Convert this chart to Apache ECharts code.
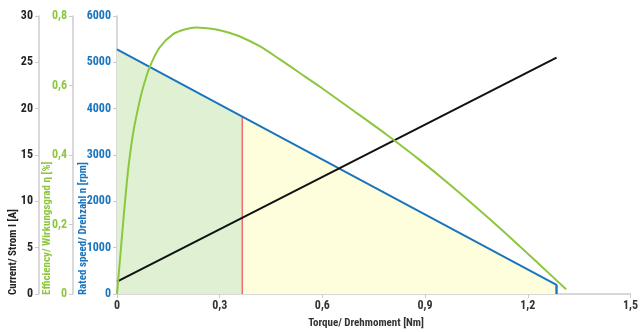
<!DOCTYPE html>
<html>
<head>
<meta charset="utf-8">
<script src="https://cdn.jsdelivr.net/npm/echarts@6/dist/echarts.min.js"></script>
<style>html,body{margin:0;padding:0;background:#fff;}#c{width:641px;height:332px;}</style>
</head>
<body>
<div id="c"></div>
<script>
// Torque values [Nm] and efficiency values
const effTorque = [0, 0.003, 0.0097, 0.0166, 0.0243, 0.034, 0.0487, 0.065, 0.077, 0.096, 0.125, 0.164, 0.2, 0.23, 0.262, 0.29, 0.32, 0.359, 0.417, 0.476, 0.534, 0.592, 0.69, 0.787, 0.884, 0.972, 1.118, 1.234, 1.312];
const efficiency = [0, 0.035, 0.11, 0.19, 0.275, 0.37, 0.472, 0.55, 0.597, 0.654, 0.710, 0.748, 0.762, 0.767, 0.765, 0.761, 0.754, 0.741, 0.713, 0.675, 0.636, 0.597, 0.528, 0.459, 0.386, 0.315, 0.19, 0.085, 0.0135];
// Speed line
const speedTorque = [0, 0.366, 1.284, 1.284];
const speed = [5280, 3830, 195, 0];
// Current line
const currentTorque = [0, 1.284];
const current = [1.33, 25.5];
// Axis ticks
const xTicks = [0, 0.3, 0.6, 0.9, 1.2, 1.5];
const speedTicks = [0, 1000, 2000, 3000, 4000, 5000, 6000];
const effTicks = [0, 0.2, 0.4, 0.6, 0.8];
const currentTicks = [0, 5, 10, 15, 20, 25, 30];

const FONT = "'Liberation Sans Narrow', 'Roboto Condensed', Roboto, sans-serif";
const GREEN = '#8dc63f', BLUE = '#1b75bc', GRAY = '#cccccc';
const pair = (xs, ys) => xs.map((x, i) => [x, ys[i]]);
const comma = v => String(+v.toFixed(2)).replace('.', ',');

const chart = echarts.init(document.getElementById('c'), null, {renderer: 'canvas'});
const yBase = (off, ticks, color) => ({
  type: 'value', position: 'left', offset: off,
  min: ticks[0], max: ticks[ticks.length - 1], interval: ticks[1] - ticks[0],
  axisLine: {show: true, onZero: false, lineStyle: {color: GRAY, width: 1.5}},
  axisTick: {show: true, length: 4, lineStyle: {color: GRAY}},
  axisLabel: {color: color, fontFamily: FONT, fontWeight: 'bold', fontSize: 12, margin: 6, formatter: comma},
  splitLine: {show: false}
});
const speedData = pair(speedTorque, speed);
chart.setOption({
  animation: false,
  grid: {left: 117, right: 10, top: 16, bottom: 38, containLabel: false},
  xAxis: {
    type: 'value', min: xTicks[0], max: xTicks[xTicks.length - 1], interval: xTicks[1] - xTicks[0],
    axisLine: {lineStyle: {color: GRAY, width: 1.5}},
    axisTick: {show: true, length: 4, lineStyle: {color: GRAY}},
    axisLabel: {color: '#333', fontFamily: FONT, fontWeight: 'bold', fontSize: 12, margin: 6, formatter: comma},
    splitLine: {show: false}
  },
  yAxis: [
    yBase(0, speedTicks, BLUE),
    yBase(44, effTicks, GREEN),
    yBase(78, currentTicks, '#222')
  ],
  graphic: [
    {type: 'text', x: 13, y: 295, rotation: Math.PI / 2, style: {text: 'Current/ Strom I [A]', fill: '#222', font: 'bold 11px ' + FONT, textAlign: 'left', textVerticalAlign: 'middle'}},
    {type: 'text', x: 47, y: 295, rotation: Math.PI / 2, style: {text: 'Efficiency/ Wirkungsgrad η [%]', fill: GREEN, font: 'bold 11px ' + FONT, textAlign: 'left', textVerticalAlign: 'middle'}},
    {type: 'text', x: 83, y: 295, rotation: Math.PI / 2, style: {text: 'Rated speed/ Drehzahl n [rpm]', fill: BLUE, font: 'bold 11px ' + FONT, textAlign: 'left', textVerticalAlign: 'middle'}},
    {type: 'text', x: 366, y: 323, style: {text: 'Torque/ Drehmoment [Nm]', fill: '#333', font: 'bold 11px ' + FONT, textAlign: 'center', textVerticalAlign: 'middle'}}
  ],
  series: [
    {type: 'line', yAxisIndex: 0, data: speedData.slice(0, 2), symbol: 'none', lineStyle: {width: 0}, areaStyle: {color: '#e0f1d3', opacity: 1}, z: 1},
    {type: 'line', yAxisIndex: 0, data: speedData.slice(1, 3), symbol: 'none', lineStyle: {width: 0}, areaStyle: {color: '#fefedc', opacity: 1}, z: 1},
    {type: 'line', yAxisIndex: 0, data: [[speedTorque[1], 0], speedData[1]], symbol: 'none', lineStyle: {color: '#f26d6d', width: 1.5}, z: 2},
    {type: 'line', yAxisIndex: 0, data: [[speedTorque[2], 0], speedData[2]], symbol: 'none', lineStyle: {color: '#f26d6d', width: 2}, z: 2},
    {type: 'line', yAxisIndex: 0, data: speedData, symbol: 'none', lineStyle: {color: BLUE, width: 2}, z: 3},
    {type: 'line', yAxisIndex: 2, data: pair(currentTorque, current), symbol: 'none', lineStyle: {color: '#111', width: 2}, z: 4},
    {type: 'line', yAxisIndex: 1, data: pair(effTorque, efficiency), symbol: 'none', smooth: 0.25, lineStyle: {color: GREEN, width: 2}, z: 5}
  ]
});
</script>
</body>
</html>
